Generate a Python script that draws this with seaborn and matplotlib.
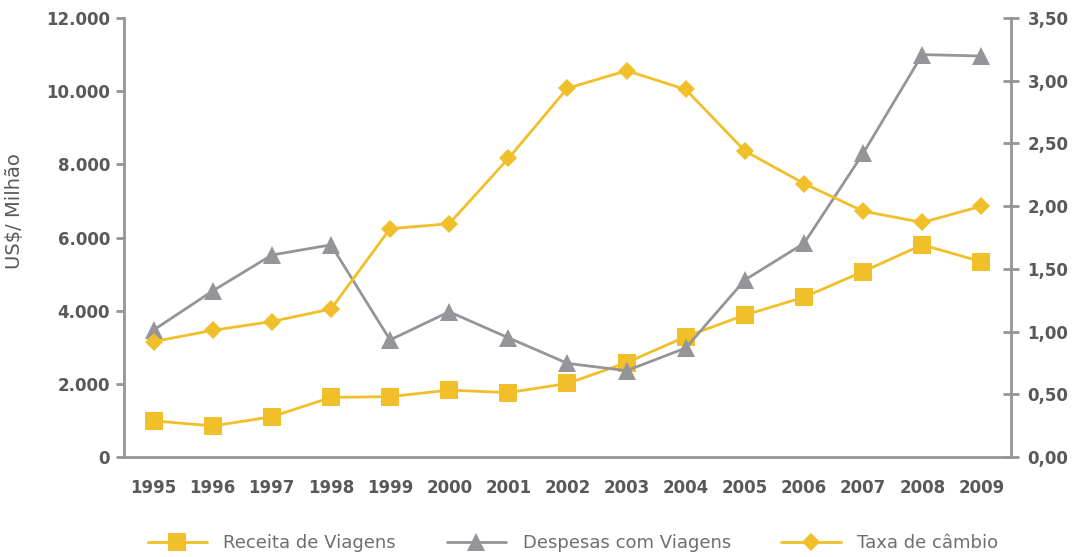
import pandas as pd
import matplotlib
matplotlib.use("Agg")
import matplotlib.pyplot as plt
import seaborn as sns

years = ["1995", "1996", "1997", "1998", "1999", "2000", "2001", "2002",
         "2003", "2004", "2005", "2006", "2007", "2008", "2009"]
receita = [990, 850, 1100, 1630, 1650, 1830, 1760, 2010,
           2580, 3290, 3880, 4370, 5070, 5800, 5340]
despesas = [3470, 4540, 5520, 5800, 3200, 3970, 3260, 2560,
            2360, 2980, 4840, 5840, 8300, 11000, 10960]
taxa = [0.92, 1.01, 1.08, 1.18, 1.82, 1.86, 2.38, 2.94,
        3.08, 2.93, 2.44, 2.18, 1.96, 1.87, 2.00]

YELLOW = "#F1BF29"
GRAY = "#939598"
TEXT = "#58595B"

sns.set_style("white")
plt.rcParams["font.family"] = ["DejaVu Sans"]

df = pd.DataFrame({"pos": range(len(years)), "receita": receita,
                   "despesas": despesas, "taxa": taxa})

fig = plt.figure(figsize=(10.77, 5.57), dpi=100)
ax = fig.add_axes([0.1151, 0.1795, 0.8236, 0.7882])
ax2 = ax.twinx()

sns.lineplot(data=df, x="pos", y="receita", ax=ax, color=YELLOW, lw=2,
             marker="s", markersize=13, markeredgewidth=0,
             label="Receita de Viagens", legend=False)
sns.lineplot(data=df, x="pos", y="despesas", ax=ax, color=GRAY, lw=2,
             marker="^", markersize=13, markeredgewidth=0,
             label="Despesas com Viagens", legend=False)
sns.lineplot(data=df, x="pos", y="taxa", ax=ax2, color=YELLOW, lw=2,
             marker="D", markersize=9, markeredgewidth=0,
             label="Taxa de câmbio", legend=False)

ax.set_xlim(-0.5, len(years) - 0.5)
ax.set_ylim(0, 12000)
ax2.set_ylim(0, 3.5)

ax.set_yticks(range(0, 12001, 2000))
ax.set_yticklabels(["0" if v == 0 else f"{v:,}".replace(",", ".")
                    for v in range(0, 12001, 2000)])
ticks2 = [i * 0.5 for i in range(8)]
ax2.set_yticks(ticks2)
ax2.set_yticklabels([f"{v:.2f}".replace(".", ",") for v in ticks2])

ax.set_xticks(range(len(years)))
ax.set_xticklabels(years)
ax.set_xticks([i - 0.5 for i in range(len(years) + 1)], minor=True)
ax.tick_params(axis="x", which="major", length=0, pad=16,
               labelsize=12, labelcolor=TEXT)
ax.tick_params(axis="x", which="minor", length=6, width=2, color=GRAY,
               direction="out")
for lab in ax.get_xticklabels():
    lab.set_fontweight("bold")

ax.tick_params(axis="y", length=6, width=2, color=GRAY, direction="out",
               labelsize=12, labelcolor=TEXT, pad=4)
ax2.tick_params(axis="y", length=12, width=2, color=GRAY, direction="inout",
                labelsize=12, labelcolor=TEXT, pad=6)
for lab in ax.get_yticklabels() + ax2.get_yticklabels():
    lab.set_fontweight("bold")

ax.set_xlabel("")
ax.set_ylabel("US$/ Milhão", fontsize=14, color=TEXT)
ax.yaxis.set_label_coords(-0.113, 0.56)
ax2.set_ylabel("")

for a in (ax, ax2):
    a.spines["top"].set_visible(False)
    for side in ("left", "right", "bottom"):
        a.spines[side].set_color(GRAY)
        a.spines[side].set_linewidth(2)
ax.spines["right"].set_visible(False)
ax2.spines["left"].set_visible(False)
ax2.spines["bottom"].set_visible(False)

h1, l1 = ax.get_legend_handles_labels()
h2, l2 = ax2.get_legend_handles_labels()
leg = fig.legend(h1 + h2, l1 + l2, loc="center", ncol=3,
                 bbox_to_anchor=(0.532, 0.025), frameon=False,
                 fontsize=13, handlelength=3.3, columnspacing=2.8,
                 handletextpad=0.9)
for t in leg.get_texts():
    t.set_color("#6D6E71")

fig.savefig("out.png", dpi=100)
plt.close(fig)
